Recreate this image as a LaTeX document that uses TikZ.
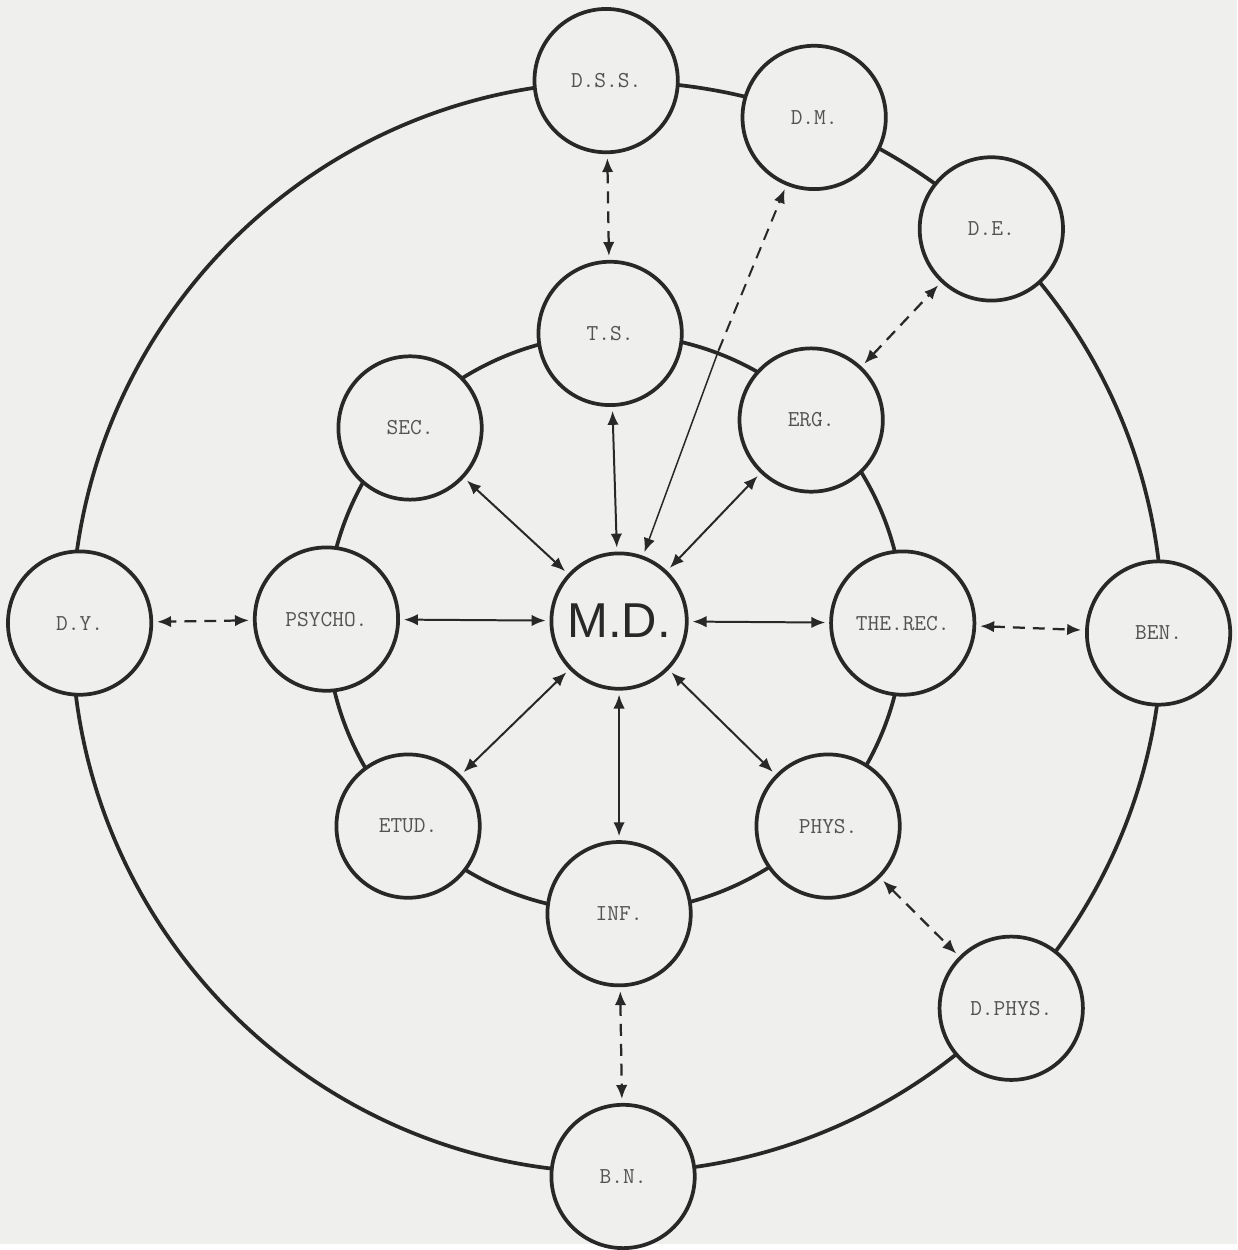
\documentclass[tikz,border=0pt]{standalone}
\usepackage{fontspec}
\newfontfamily\bigfont{Liberation Sans}
\usetikzlibrary{arrows.meta}
\definecolor{paper}{RGB}{239,239,237}
\definecolor{ink}{RGB}{40,40,40}
\begin{document}
\begin{tikzpicture}[x=1mm,y=1mm,>={Latex[length=2.8mm,width=2.3mm]},line join=round]
% ---- styles ----
\tikzstyle{unit}=[circle,draw=ink,line width=0.75mm,fill=paper,inner sep=0pt,
  minimum size=28.8mm,font=\ttfamily\fontsize{13}{15}\selectfont,text=ink!80]
\tikzstyle{hub}=[unit,minimum size=27.2mm,font=\bigfont\fontsize{28}{32}\selectfont,text=ink]
\tikzstyle{link}=[<->,draw=ink,line width=0.4mm,shorten >=0.8mm,shorten <=0.8mm]
\tikzstyle{farlink}=[link,line width=0.45mm,dash pattern=on 2.4mm off 1.6mm]

% ---- paper ----
\fill[paper] (-124,-124) rectangle (124.6,126);

% ---- rings (drawn first, underneath) ----
\draw[ink,line width=0.75mm] (-0.4,0.8) circle (58);
\draw[ink,line width=0.75mm] (0,0) circle (109.6);

% ---- centre ----
\node[hub] (md) at (0.4,1.2) {M.D.};

% ---- inner ring ----
\node[unit] (ts) at (-1.4,59) {T.S.};
\node[unit] (erg) at (39,41.6) {ERG.};
\node[unit] (threc) at (57.4,0.8) {THE.REC.};
\node[unit] (phys) at (42.4,-40) {PHYS.};
\node[unit] (inf) at (0.4,-57.6) {INF.};
\node[unit] (etud) at (-42,-40) {ETUD.};
\node[unit] (psycho) at (-58.4,1.6) {PSYCHO.};
\node[unit] (sec) at (-41.6,40) {SEC.};

% ---- outer ring ----
\node[unit] (dss) at (-2.2,109.8) {D.S.S.};
\node[unit] (dm) at (39.6,102.4) {D.M.};
\node[unit] (de) at (75.2,80) {D.E.};
\node[unit] (ben) at (108.8,-1.2) {BEN.};
\node[unit] (dphys) at (79.2,-76.6) {D.PHYS.};
\node[unit] (bn) at (1.2,-110.4) {B.N.};
\node[unit] (dy) at (-108,0.8) {D.Y.};

% ---- centre to inner ring ----
\foreach \n in {ts,erg,threc,phys,inf,etud,psycho,sec}
  \draw[link] (md) -- (\n);

% ---- inner ring to outer ring ----
\draw[farlink] (ts) -- (dss);
\draw[farlink] (erg) -- (de);
\draw[farlink] (threc) -- (ben);
\draw[farlink] (phys) -- (dphys);
\draw[farlink] (inf) -- (bn);
\draw[farlink] (psycho) -- (dy);

% ---- D.M. to centre, broken at the ring ----
\coordinate (kink) at (20.4,55.6);
\draw[->,draw=ink,line width=0.3mm,shorten >=0.8mm] (kink) -- (md);
\draw[->,draw=ink,line width=0.4mm,dash pattern=on 2.4mm off 1.6mm,shorten >=0.8mm] (kink) -- (dm);

\end{tikzpicture}
\end{document}
